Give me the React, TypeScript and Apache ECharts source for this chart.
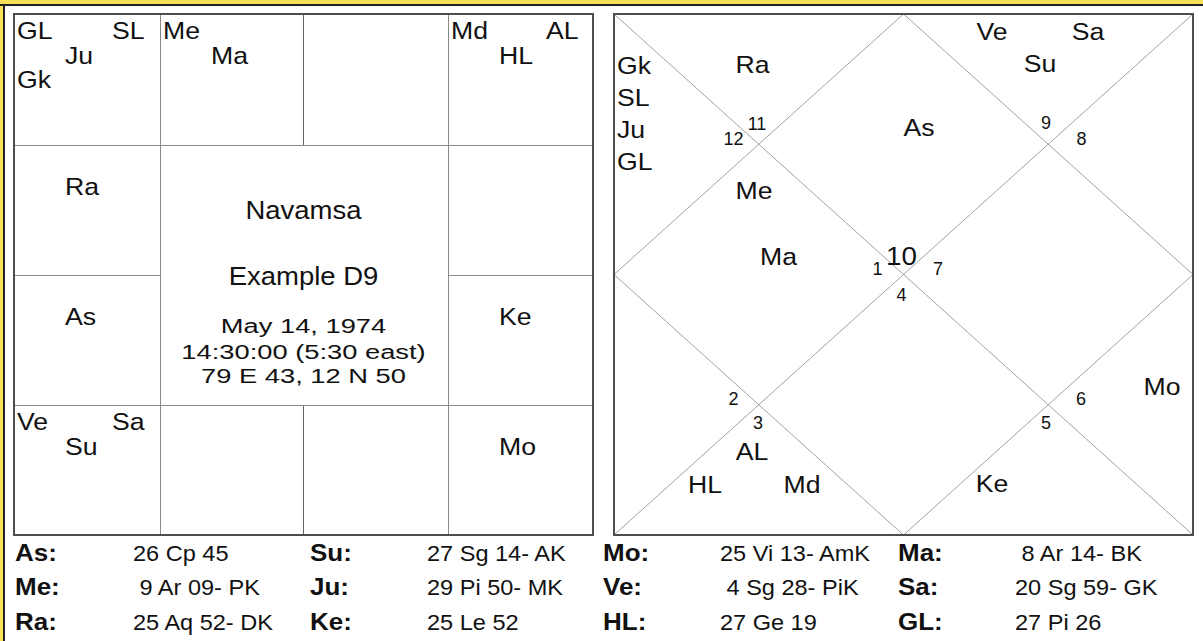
import React, { useEffect, useRef } from "react";
import * as echarts from "echarts";

// ---------------- data ----------------
const ASC_SIGN = 10; // Capricorn rises in D9
const SIGN_ABBR = ["Ar", "Ta", "Ge", "Cn", "Le", "Vi", "Li", "Sc", "Sg", "Cp", "Aq", "Pi"];
// planet -> sign number (1..12) in the Navamsa
const PLANETS = ["GL", "SL", "Ju", "Gk", "Me", "Ma", "Md", "AL", "HL", "Ke", "Mo", "Ve", "Sa", "Su", "As", "Ra"];
const PLANET_SIGNS = [12, 12, 12, 12, 1, 1, 3, 3, 3, 5, 6, 9, 9, 9, 10, 11];

const TITLE = "Navamsa";
const SUBTITLE = "Example D9";
const BIRTH_LINES = ["May 14, 1974", "14:30:00 (5:30 east)", "79 E 43, 12 N 50"];

const TABLE_LABELS = ["As", "Su", "Mo", "Ma", "Me", "Ju", "Ve", "Sa", "Ra", "Ke", "HL", "GL"];
const TABLE_VALUES = [
  "26 Cp 45", "27 Sg 14- AK", "25 Vi 13- AmK", " 8 Ar 14- BK",
  " 9 Ar 09- PK", "29 Pi 50- MK", " 4 Sg 28- PiK", "20 Sg 59- GK",
  "25 Aq 52- DK", "25 Le 52", "27 Ge 19", "27 Pi 26",
];

// ---------------- layout ----------------
const FONT = '"Liberation Sans", Arial, sans-serif';
const SX = 1.11;
const LB = { x: 14, y: 14, w: 579, h: 521 }; // south chart box
const RB = { x: 614, y: 14, w: 579, h: 521 }; // north chart box
const SOUTH_COLS = [14, 160, 303, 448, 593];
const SOUTH_ROWS = [14, 145, 275, 405, 535];
// South Indian fixed cell (row, col) for sign 1..12
const SOUTH_CELL: Record<number, [number, number]> = {
  12: [0, 0], 1: [0, 1], 2: [0, 2], 3: [0, 3], 4: [1, 3], 5: [2, 3],
  6: [3, 3], 7: [3, 2], 8: [3, 1], 9: [3, 0], 10: [2, 0], 11: [1, 0],
};
// slot (row, col) of each planet inside its south cell
const SOUTH_SLOT: Record<string, [number, number]> = {
  GL: [0, 0], SL: [0, 2], Ju: [1, 1], Gk: [2, 0], Me: [0, 0], Ma: [1, 1],
  Md: [0, 0], AL: [0, 2], HL: [1, 1], Ke: [1, 1], Mo: [1, 1], Ve: [0, 0],
  Sa: [0, 2], Su: [1, 1], As: [1, 1], Ra: [1, 1],
};
const SLOT_DX = [3, 51, 98];
const SLOT_DY = [16.5, 41, 65.5];
// north chart: planet label anchors (relative to box) and alignment
const NORTH_POS: Record<string, [number, number, string]> = {
  Ra: [138.5, 50, "center"], Gk: [3, 51, "left"], SL: [3, 83, "left"], Ju: [3, 115, "left"], GL: [3, 147, "left"],
  As: [305, 113, "center"], Ve: [378, 17, "center"], Sa: [474, 17, "center"], Su: [426, 49, "center"],
  Me: [140, 176, "center"], Ma: [164.5, 242, "center"], Mo: [548, 372.5, "center"],
  AL: [138, 437.5, "center"], HL: [91, 470.5, "center"], Md: [188, 470.5, "center"], Ke: [378, 469.5, "center"],
};
// house number anchors (relative to box), house 1..12
const HOUSE_POS: [number, number][] = [
  [287.5, 242], [143, 109.5], [119.5, 125], [263.5, 255], [119.5, 385], [144, 409],
  [287.5, 280.5], [432, 409], [467, 385], [324, 254.5], [467.5, 125], [432, 109],
];
const TABLE_LABEL_X = [15, 310, 603, 898];
const TABLE_VALUE_X = [133, 427, 720, 1015];
const TABLE_ROW_Y = [553, 587.5, 622];

function txt(text: string, x: number, y: number, size: number, align = "left", opts: any = {}) {
  return {
    type: "text",
    x,
    y,
    scaleX: opts.scaleX ?? SX,
    silent: true,
    style: {
      text,
      fill: "#111",
      fontSize: size,
      fontFamily: FONT,
      fontWeight: opts.bold ? "bold" : "normal",
      textAlign: align,
      textVerticalAlign: "middle",
    },
  };
}
function line(x1: number, y1: number, x2: number, y2: number, stroke = "#8a8a8a", w = 1) {
  return { type: "line", silent: true, shape: { x1, y1, x2, y2 }, style: { stroke, lineWidth: w } };
}

function buildElements() {
  const els: any[] = [];
  // frame
  els.push({ type: "rect", shape: { x: 0, y: 0, width: 1203, height: 641 }, style: { fill: "#f4e157" }, silent: true });
  els.push({ type: "rect", shape: { x: 4, y: 5, width: 1199, height: 636 }, style: { fill: "#ffffff" }, silent: true });
  els.push(line(0, 5, 1203, 5, "#222", 2));
  els.push(line(4, 5, 4, 641, "#222", 2));

  // ---- south chart ----
  const C = SOUTH_COLS, R = SOUTH_ROWS;
  els.push(line(C[1] + 0.5, R[0], C[1] + 0.5, R[4]));
  els.push(line(C[3] + 0.5, R[0], C[3] + 0.5, R[4]));
  els.push(line(C[2] + 0.5, R[0], C[2] + 0.5, R[1], "#666"));
  els.push(line(C[2] + 0.5, R[3], C[2] + 0.5, R[4], "#666"));
  els.push(line(C[0], R[1] + 0.5, C[4], R[1] + 0.5));
  els.push(line(C[0], R[3] + 0.5, C[4], R[3] + 0.5));
  els.push(line(C[0], R[2] + 0.5, C[1], R[2] + 0.5));
  els.push(line(C[3], R[2] + 0.5, C[4], R[2] + 0.5));
  els.push({ type: "rect", silent: true, shape: { x: LB.x, y: LB.y, width: LB.w, height: LB.h }, style: { fill: "none", stroke: "#4d4d4d", lineWidth: 2 } });

  PLANETS.forEach((p, i) => {
    const [r, c] = SOUTH_CELL[PLANET_SIGNS[i]];
    const [sr, sc] = SOUTH_SLOT[p];
    els.push(txt(p, C[c] + SLOT_DX[sc], R[r] + SLOT_DY[sr], 24));
  });
  const cx = LB.x + LB.w / 2;
  els.push(txt(TITLE, cx, 210.5, 25, "center", { scaleX: 1.1 }));
  els.push(txt(SUBTITLE, cx, 276, 25, "center", { scaleX: 1.1 }));
  const birthY = [325.5, 352, 375.5];
  BIRTH_LINES.forEach((l, i) => els.push(txt(l, cx, birthY[i], 21, "center", { scaleX: 1.3 })));

  // ---- north chart ----
  const x0 = RB.x, y0 = RB.y, x1 = RB.x + RB.w, y1 = RB.y + RB.h;
  const mx = (x0 + x1) / 2, my = (y0 + y1) / 2;
  els.push(line(x0, y0, x1, y1, "#8a8a8a", 0.8));
  els.push(line(x1, y0, x0, y1, "#8a8a8a", 0.8));
  els.push({ type: "polygon", silent: true, shape: { points: [[mx, y0], [x1, my], [mx, y1], [x0, my]] }, style: { fill: "none", stroke: "#8a8a8a", lineWidth: 0.8 } });
  els.push({ type: "rect", silent: true, shape: { x: RB.x, y: RB.y, width: RB.w, height: RB.h }, style: { fill: "none", stroke: "#4d4d4d", lineWidth: 2 } });

  for (let h = 1; h <= 12; h++) {
    const sign = ((ASC_SIGN - 1 + h - 1) % 12) + 1;
    const [hx, hy] = HOUSE_POS[h - 1];
    els.push(txt(String(sign), x0 + hx, y0 + hy, h === 1 ? 25 : 18, "center", { scaleX: h === 1 ? 1.11 : 1.0 }));
  }
  PLANETS.forEach((p) => {
    const [px, py, al] = NORTH_POS[p];
    els.push(txt(p, x0 + px, y0 + py, 24, al));
  });

  // ---- table ----
  TABLE_LABELS.forEach((lab, i) => {
    const row = Math.floor(i / 4), col = i % 4;
    els.push(txt(lab + ":", TABLE_LABEL_X[col], TABLE_ROW_Y[row], 23, "left", { bold: true, scaleX: 1.13 }));
    els.push(txt(TABLE_VALUES[i].replace(/^ /, "\u00a0"), TABLE_VALUE_X[col], TABLE_ROW_Y[row], 22, "left", { scaleX: 1.07 }));
  });
  return els;
}

export default function App() {
  const ref = useRef<HTMLDivElement>(null);
  useEffect(() => {
    if (!ref.current) return;
    const chart = echarts.init(ref.current, undefined, { renderer: "svg" });
    chart.setOption({ animation: false, graphic: { elements: buildElements() } });
    return () => chart.dispose();
  }, []);
  return <div ref={ref} style={{ position: "absolute", left: 0, top: 0, width: 1203, height: 641, background: "#fff" }} />;
}
